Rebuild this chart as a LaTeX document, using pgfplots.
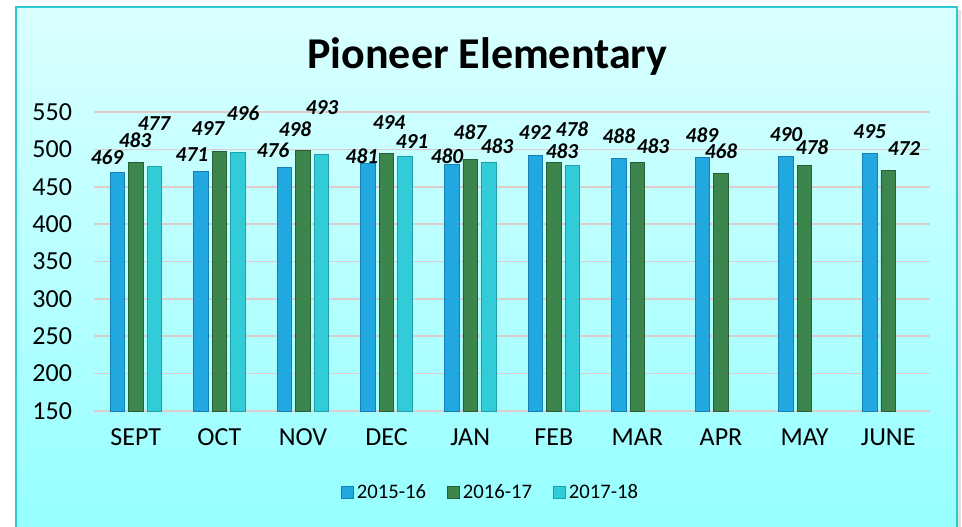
\documentclass[border=0pt]{standalone}
\usepackage{pgfplots}
\pgfplotsset{compat=1.18}
\usepackage{pgfplotstable}
\usepackage{fontspec}
\setmainfont{Carlito}

\definecolor{bgtop}{RGB}{218,255,255}
\definecolor{bgbot}{RGB}{150,255,255}
\definecolor{framec}{RGB}{46,200,208}
\definecolor{gridc}{RGB}{222,204,204}
\definecolor{blueF}{RGB}{34,168,224}
\definecolor{blueD}{RGB}{22,128,180}
\definecolor{greenF}{RGB}{60,134,78}
\definecolor{greenD}{RGB}{40,95,55}
\definecolor{tealF}{RGB}{50,204,216}
\definecolor{tealD}{RGB}{30,160,172}

% x = month index, v = value, dx/dy = label offset (pt)
\pgfplotstableread{
x v dx dy
0 469 -7.7 11.6
1 471 -6.7 12.0
2 476 -8.6 13.0
3 481 -4.6 5.7
4 480 -3.5 6.2
5 492 -0.2 16.8
6 488 0 16.4
7 489 -0.4 17.0
8 490 0 16.4
9 495 0 16.0
}\dataA
\pgfplotstableread{
x v dx dy
0 483 -0.6 16.6
1 497 -8.6 17.0
2 498 -6.0 16.4
3 494 1.8 23.6
4 487 -0.2 20.3
5 483 6.2 8.3
6 483 11.7 11.6
7 468 0 16.2
8 478 5.6 14.3
9 472 11.9 16.7
}\dataB
\pgfplotstableread{
x v dx dy
0 477 -0.2 32.3
1 496 3.8 29.2
2 493 0.4 35.3
3 491 5.2 11.3
4 483 6.2 12.1
5 478 -0.2 27.6
}\dataC

\begin{document}
\begin{tikzpicture}
\useasboundingbox (0,0) rectangle (721.5pt,395.25pt);
\fill[white] (0,0) rectangle (721.5pt,395.25pt);
% shadow on right
\fill[black!12] (718.5pt,0) rectangle (720.5pt,388pt);
\shade[top color=bgtop, bottom color=bgbot] (12pt,0) rectangle (717.75pt,390pt);
\draw[framec, line width=2.2pt] (12pt,-2pt) -- (12pt,390pt) -- (717.75pt,390pt) -- (717.75pt,-2pt);
\node[anchor=base, font=\bfseries\fontsize{33}{38}\selectfont] at (365.6pt,343.5pt) {Pioneer Elementary};
\begin{axis}[
  at={(70.5pt,87pt)}, anchor=south west,
  width=627pt, height=224.25pt, scale only axis,
  xmin=-0.5, xmax=9.5, ymin=150, ymax=550,
  ytick={150,200,...,550},
  xtick={0,...,9},
  xticklabels={SEPT,OCT,NOV,DEC,JAN,FEB,MAR,APR,MAY,JUNE},
  axis line style={draw=none},
  tick style={draw=none},
  major tick length=0pt,
  ymajorgrids,
  grid style={gridc, line width=1.3pt},
  /pgf/number format/assume math mode=true,
  yticklabel style={font=\fontsize{19.5}{23}\selectfont, anchor=east, xshift=-13pt},
  xticklabel style={font=\fontsize{19.5}{23}\selectfont, anchor=north, yshift=-10pt},
  ybar=3pt, bar width=10.9pt,
  clip=false,
  nodes near coords,
  visualization depends on={\thisrow{dx} \as \dx},
  visualization depends on={\thisrow{dy} \as \dy},
  every node near coord/.append style={anchor=center, inner sep=0pt, xshift=\dx pt, yshift=\dy pt,
     font=\bfseries\itshape\fontsize{16}{19}\selectfont, text=black},
  legend style={at={(0.475,-0.271)}, anchor=center, draw=none, fill=none,
     legend columns=-1, font=\fontsize{15.5}{18}\selectfont,
     /tikz/every even column/.append style={column sep=14pt}},
  legend image code/.code={\path[#1] (0pt,-4.5pt) rectangle (9pt,4.5pt);},
]
\addplot[draw=blueD, line width=0.6pt, fill=blueF] table[x=x,y=v] {\dataA};
\addlegendentry{2015-16}
\addplot[draw=greenD, line width=0.6pt, fill=greenF] table[x=x,y=v] {\dataB};
\addlegendentry{2016-17}
\addplot[draw=tealD, line width=0.6pt, fill=tealF] table[x=x,y=v] {\dataC};
\addlegendentry{2017-18}
\end{axis}
\end{tikzpicture}
\end{document}
